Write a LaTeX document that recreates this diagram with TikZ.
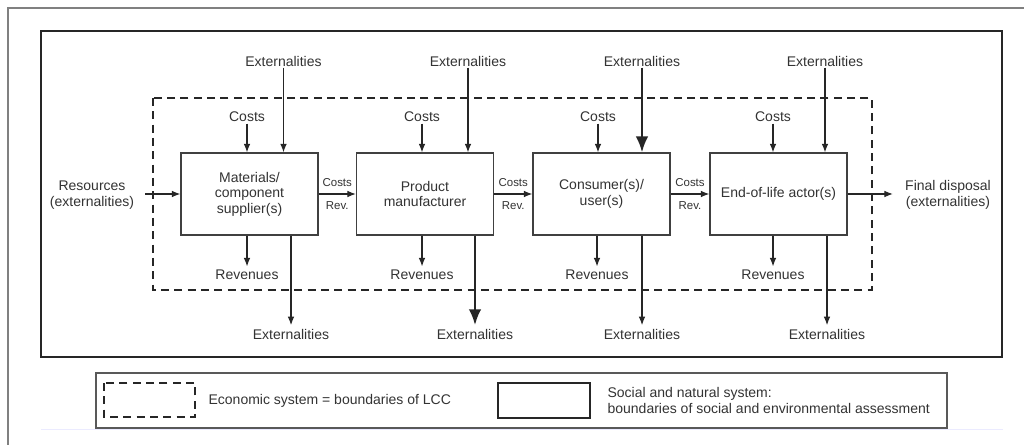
\documentclass[tikz,border=0pt]{standalone}
\usepackage{fontspec}
\setmainfont{Liberation Sans}
\usetikzlibrary{arrows.meta,calc}
\begin{document}
\begin{tikzpicture}[x=0.75pt,y=-0.75pt,
  txt/.style={text=black!80, font=\fontsize{10.5}{12}\selectfont, inner sep=1pt, align=center},
  small/.style={text=black!80, font=\fontsize{8.6}{10}\selectfont, inner sep=1pt},
  actor/.style={draw=black!75, line width=0.8pt, minimum width=102.75pt, minimum height=61.5pt,
    align=center, text=black!80, font=\fontsize{10.5}{11.6}\selectfont, inner sep=0pt},
  arr/.style={draw=black!85, line width=0.9pt, -{Latex[length=6.5pt,width=5pt]}},
  bigarr/.style={draw=black!85, line width=2pt, -{Latex[length=12pt,width=9.5pt]}},
  econ/.style={draw=black!85, line width=1.5pt, dash pattern=on 6pt off 4pt},
  social/.style={draw=black!85, line width=1.9pt}]
\useasboundingbox (0,0) rectangle (1024,445);
\fill[white] (0,0) rectangle (1024,445);

% outer page frame
\draw[black!50, line width=1.1pt] (1024,8) -- (8,8) -- (8,445);

% system boundaries
\draw[social] (41,31) rectangle (1002,357);
\draw[econ] (153,98) rectangle (872,290);

% actors in the life cycle
\node[actor] (b1) at (249.5,194) {Materials/\\component\\supplier(s)};
\node[actor] (b2) at (425,194) {Product\\manufacturer};
\node[actor] (b3) at (601.5,194) {Consumer(s)/\\user(s)};
\node[actor] (b4) at (778.5,194) {End-of-life actor(s)};

% resource input and final disposal
\node[txt] (res) at (92,195) {Resources\\(externalities)};
\coordinate (resin) at (145,194);
\draw[arr] (resin) -- (b1.west);
\node[txt] (fin) at (948,195) {Final disposal\\(externalities)};
\coordinate (finout) at (893,194);
\draw[arr] (b4.east) -- (finout);

% cost / revenue exchange between neighbouring actors
\foreach \a/\b in {b1/b2,b2/b3,b3/b4}{
  \draw[arr] (\a.east) -- (\b.west);
  \node[small] at ($(\a.east)!0.5!(\b.west)+(0,-11)$) {Costs};
  \node[small] at ($(\a.east)!0.5!(\b.west)+(0,12)$) {Rev.};
}

% costs entering from above
\foreach \i/\x in {1/247,2/422,3/598,4/773}{
  \node[txt] (c\i) at (\x,117) {Costs};
  \draw[arr] (c\i.south) -- (c\i.south |- b\i.north);
}
% revenues leaving below
\foreach \i/\x in {1/247,2/422,3/597,4/773}{
  \node[txt] (r\i) at (\x,275) {Revenues};
  \draw[arr] (r\i.north |- b\i.south) -- ([yshift=1.5pt]r\i.north);
}

% externalities entering from above
\node[txt] (et1) at (283.5,61) {Externalities};
\node[txt] (et2) at (468,61) {Externalities};
\node[txt] (et3) at (642,61) {Externalities};
\node[txt] (et4) at (825,61) {Externalities};
\draw[arr] (et1.south) -- (et1.south |- b1.north);
\draw[arr] (et2.south) -- (et2.south |- b2.north);
\draw[bigarr] (et3.south) -- (et3.south |- b3.north);
\draw[arr] (et4.south) -- (et4.south |- b4.north);

% externalities leaving below
\node[txt] (eb1) at (291,334) {Externalities};
\node[txt] (eb2) at (475,334) {Externalities};
\node[txt] (eb3) at (642,334) {Externalities};
\node[txt] (eb4) at (827,334) {Externalities};
\draw[arr] (eb1.north |- b1.south) -- ([yshift=1.5pt]eb1.north);
\draw[bigarr] (eb2.north |- b2.south) -- ([yshift=1.5pt]eb2.north);
\draw[arr] (eb3.north |- b3.south) -- ([yshift=1.5pt]eb3.north);
\draw[arr] (eb4.north |- b4.south) -- ([yshift=1.5pt]eb4.north);

% legend
\draw[black!65, line width=0.8pt] (96,373) rectangle (947,428);
\draw[econ] (104,383) rectangle (195,417);
\node[txt, anchor=west] (leg1) at (207,401) {Economic system = boundaries of LCC};
\draw[social] (498,383) rectangle (590,418);
\node[txt, anchor=west, align=left, font=\fontsize{10.5}{11.3}\selectfont] (leg2) at (606,400.5)
  {Social and natural system:\\boundaries of social and environmental assessment};
\draw[blue!8, line width=1.1pt] (41,429.5) -- (1003,429.5);
\end{tikzpicture}
\end{document}
